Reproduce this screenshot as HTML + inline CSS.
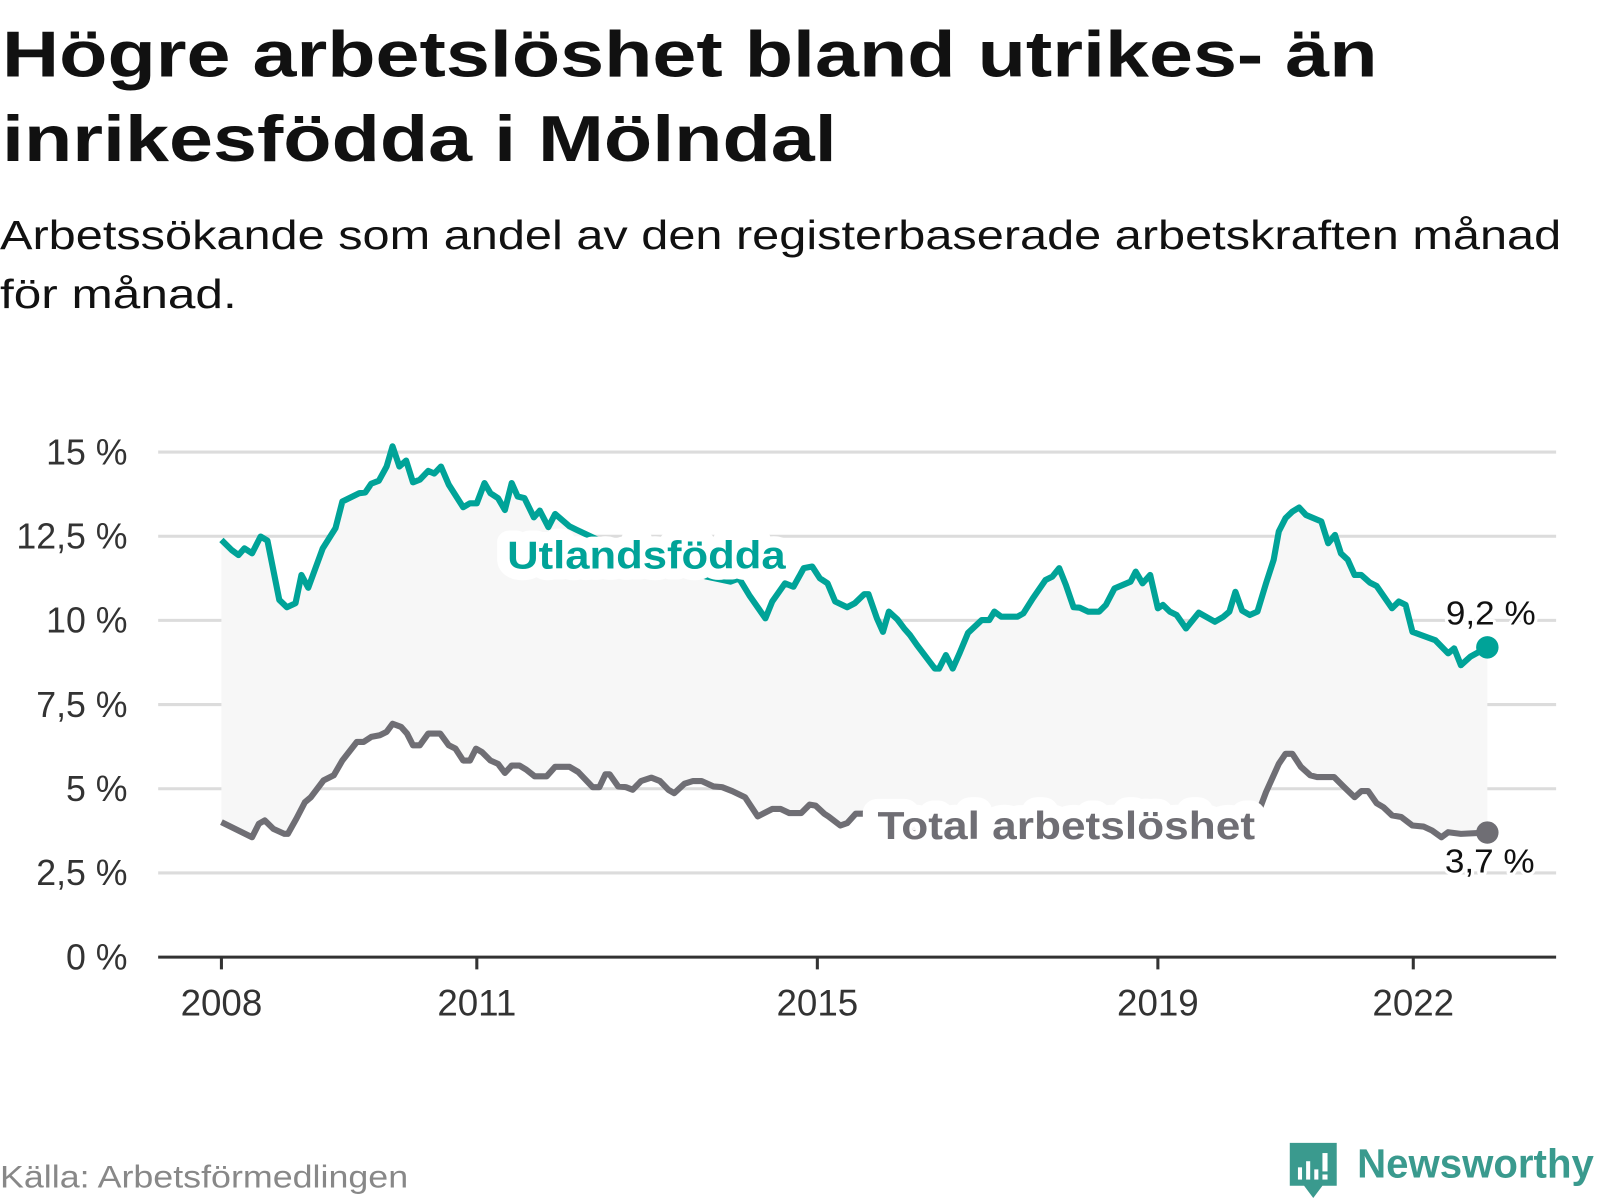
<!DOCTYPE html>
<html><head><meta charset="utf-8">
<style>
html,body{margin:0;padding:0;background:#fff;}
svg{display:block;font-family:"Liberation Sans",sans-serif;}
</style></head>
<body>
<svg id="chart" width="1600" height="1200" viewBox="0 0 1600 1200">
<g transform="scale(1.0204)">
  <text x="2" y="75" font-size="64" font-weight="bold" fill="#111" textLength="1348" lengthAdjust="spacingAndGlyphs">Högre arbetslöshet bland utrikes- än</text>
  <text x="2" y="158" font-size="64" font-weight="bold" fill="#111" textLength="818" lengthAdjust="spacingAndGlyphs">inrikesfödda i Mölndal</text>
  <text x="0" y="244" font-size="40" fill="#111" textLength="1530" lengthAdjust="spacingAndGlyphs">Arbetssökande som andel av den registerbaserade arbetskraften månad</text>
  <text x="0" y="302" font-size="40" fill="#111" textLength="232" lengthAdjust="spacingAndGlyphs">för månad.</text>
  <g id="grid"></g>
  <g id="yticks"></g>
  <g id="xticks"></g>
  <g id="plot"></g>
  <text x="0" y="1164" font-size="31" fill="#888" textLength="400" lengthAdjust="spacingAndGlyphs">Källa: Arbetsförmedlingen</text>
  <g>
    <path d="M1264 1120 h46 v42 h-14 l-9 12 l-9 -12 h-14 z" fill="#3a9a8e"/>
    <rect x="1272" y="1144" width="4" height="12" fill="#fff"/>
    <rect x="1280" y="1138" width="4" height="18" fill="#fff"/>
    <rect x="1288" y="1146" width="4" height="10" fill="#fff"/>
    <rect x="1296" y="1130" width="5" height="18" fill="#fff"/>
    <rect x="1296" y="1151" width="5" height="5" fill="#fff"/>
    <text x="1330" y="1154" font-size="40" font-weight="bold" fill="#3a9a8e" textLength="232" lengthAdjust="spacingAndGlyphs">Newsworthy</text>
  </g>
</g>
</svg>
<script>
const yTicks = [0, 2.5, 5, 7.5, 10, 12.5, 15];
const yTickLabels = ["0 %", "2,5 %", "5 %", "7,5 %", "10 %", "12,5 %", "15 %"];
const xTicks = [2008, 2011, 2015, 2019, 2022];
const xTickLabels = ["2008", "2011", "2015", "2019", "2022"];
const utlYears = [2008.00,2008.12,2008.20,2008.27,2008.36,2008.46,2008.54,2008.68,2008.77,2008.87,2008.94,2009.02,2009.19,2009.34,2009.42,2009.62,2009.69,2009.76,2009.85,2009.94,2010.01,2010.09,2010.17,2010.25,2010.33,2010.43,2010.50,2010.58,2010.67,2010.84,2010.92,2011.00,2011.09,2011.16,2011.25,2011.33,2011.41,2011.48,2011.56,2011.67,2011.74,2011.84,2011.92,2012.09,2012.17,2012.5,2012.9,2013.3,2013.7,2013.98,2014.08,2014.20,2014.39,2014.47,2014.62,2014.72,2014.84,2014.94,2015.03,2015.12,2015.21,2015.35,2015.44,2015.55,2015.60,2015.70,2015.77,2015.84,2015.94,2016.02,2016.09,2016.17,2016.38,2016.43,2016.51,2016.59,2016.67,2016.77,2016.93,2017.02,2017.08,2017.16,2017.35,2017.42,2017.53,2017.68,2017.76,2017.84,2017.92,2018.01,2018.08,2018.18,2018.31,2018.39,2018.49,2018.68,2018.74,2018.82,2018.91,2019.00,2019.06,2019.14,2019.22,2019.33,2019.48,2019.67,2019.77,2019.84,2019.91,2019.99,2020.08,2020.17,2020.27,2020.36,2020.42,2020.50,2020.58,2020.66,2020.74,2020.92,2021.00,2021.08,2021.15,2021.23,2021.31,2021.39,2021.49,2021.57,2021.75,2021.83,2021.91,2021.99,2022.26,2022.41,2022.48,2022.56,2022.67,2022.87];
const utlValues = [12.39,12.09,11.94,12.14,11.99,12.49,12.37,10.61,10.39,10.51,11.35,10.97,12.14,12.74,13.53,13.78,13.80,14.06,14.15,14.57,15.17,14.57,14.75,14.10,14.18,14.44,14.36,14.57,14.03,13.36,13.48,13.48,14.08,13.78,13.63,13.28,14.08,13.68,13.63,13.06,13.26,12.77,13.16,12.79,12.69,12.3,11.9,11.6,11.3,11.15,11.25,10.75,10.06,10.56,11.10,11.00,11.55,11.60,11.25,11.10,10.56,10.39,10.51,10.78,10.78,10.06,9.66,10.26,10.03,9.76,9.56,9.27,8.57,8.57,8.97,8.57,9.02,9.63,10.01,10.01,10.26,10.11,10.11,10.21,10.65,11.20,11.30,11.55,11.05,10.39,10.38,10.26,10.26,10.46,10.95,11.15,11.45,11.10,11.35,10.36,10.46,10.26,10.16,9.76,10.23,9.96,10.11,10.26,10.85,10.29,10.16,10.26,11.10,11.80,12.64,13.04,13.23,13.35,13.13,12.94,12.29,12.54,11.99,11.80,11.35,11.35,11.12,11.02,10.36,10.56,10.46,9.66,9.41,9.02,9.17,8.67,8.92,9.2];
const totYears = [2008.00,2008.36,2008.44,2008.51,2008.61,2008.74,2008.78,2008.88,2008.98,2009.05,2009.20,2009.32,2009.42,2009.59,2009.67,2009.76,2009.86,2009.94,2010.01,2010.11,2010.18,2010.25,2010.33,2010.43,2010.57,2010.67,2010.75,2010.84,2010.92,2010.99,2011.06,2011.16,2011.25,2011.33,2011.41,2011.50,2011.58,2011.68,2011.82,2011.92,2012.09,2012.19,2012.36,2012.44,2012.51,2012.56,2012.66,2012.75,2012.83,2012.93,2013.05,2013.15,2013.25,2013.32,2013.44,2013.54,2013.64,2013.78,2013.88,2014.00,2014.15,2014.30,2014.47,2014.57,2014.67,2014.81,2014.91,2014.98,2015.08,2015.13,2015.27,2015.35,2015.45,2015.57,2015.68,2015.8,2016.1,2016.5,2017.0,2017.5,2018.0,2018.5,2019.0,2019.5,2020.0,2020.19,2020.27,2020.42,2020.50,2020.58,2020.68,2020.79,2020.87,2021.07,2021.18,2021.31,2021.39,2021.47,2021.57,2021.65,2021.75,2021.86,2021.99,2022.12,2022.22,2022.33,2022.41,2022.56,2022.87];
const totValues = [4.01,3.56,3.96,4.06,3.81,3.66,3.66,4.11,4.60,4.75,5.25,5.40,5.84,6.39,6.39,6.54,6.59,6.69,6.93,6.84,6.64,6.29,6.29,6.64,6.64,6.29,6.19,5.84,5.84,6.19,6.09,5.84,5.74,5.47,5.69,5.69,5.57,5.37,5.37,5.65,5.65,5.50,5.05,5.05,5.43,5.43,5.07,5.05,4.97,5.23,5.33,5.23,4.97,4.87,5.15,5.23,5.23,5.07,5.05,4.93,4.75,4.18,4.40,4.40,4.28,4.28,4.53,4.50,4.26,4.18,3.91,3.98,4.26,4.26,4.15,3.95,3.7,3.4,3.4,3.35,3.35,3.35,3.4,3.4,3.45,4.36,4.90,5.74,6.04,6.04,5.65,5.40,5.35,5.35,5.07,4.75,4.93,4.93,4.57,4.45,4.21,4.16,3.91,3.88,3.76,3.56,3.71,3.66,3.7];
const endLabels = ["9,2 %", "3,7 %"];

const NS = "http://www.w3.org/2000/svg";
const X = yr => 217 + (yr - 2008) * 83.43;
const Y = v => 938 - v * 33;
function mk(tag, attrs, parent) {
  const e = document.createElementNS(NS, tag);
  for (const k in attrs) e.setAttribute(k, attrs[k]);
  parent.appendChild(e);
  return e;
}
const grid = document.getElementById('grid');
const yg = document.getElementById('yticks');
const xg = document.getElementById('xticks');
const plot = document.getElementById('plot');

yTicks.forEach((v, i) => {
  if (v > 0) {
    const l = mk('line', {x1: 155, x2: 1525, y1: Y(v), y2: Y(v), stroke: '#dcdcdc', 'stroke-width': 3}, grid);
    
    
  }
  const t = mk('text', {x: 125, y: Y(v) + 12, 'font-size': 35, fill: '#333', 'text-anchor': 'end'}, yg);
  t.textContent = yTickLabels[i];
  
  
});
const ax = mk('line', {x1: 155, x2: 1525, y1: 938, y2: 938, stroke: '#333', 'stroke-width': 3}, xg);


xTicks.forEach((yr, i) => {
  const tk = mk('line', {x1: X(yr), x2: X(yr), y1: 938, y2: 950, stroke: '#333', 'stroke-width': 3}, xg);
  
  
  const t = mk('text', {x: X(yr), y: 995, 'font-size': 36, fill: '#333', 'text-anchor': 'middle'}, xg);
  t.textContent = xTickLabels[i];
  
  
});

function linePts(ys, vs) { return ys.map((y, i) => X(y).toFixed(1) + ',' + Y(vs[i]).toFixed(1)); }
const up = linePts(utlYears, utlValues);
const tp = linePts(totYears, totValues).reverse();
const band = mk('path', {d: 'M' + up.join('L') + 'L' + tp.join('L') + 'Z', fill: '#f7f7f7'}, plot);



const tl = mk('path', {d: 'M' + linePts(totYears, totValues).join('L'), fill: 'none', stroke: '#6f6e74', 'stroke-width': 6, 'stroke-linejoin': 'round'}, plot);


const ul = mk('path', {d: 'M' + up.join('L'), fill: 'none', stroke: '#00a398', 'stroke-width': 6, 'stroke-linejoin': 'round'}, plot);



const lu = utlYears.length - 1, lt = totYears.length - 1;
const d1 = mk('circle', {cx: X(utlYears[lu]), cy: Y(utlValues[lu]), r: 11, fill: '#00a398'}, plot);


const d2 = mk('circle', {cx: X(totYears[lt]), cy: Y(totValues[lt]), r: 11, fill: '#6f6e74'}, plot);



function label(txt, x, y, size, weight, color, name, halo, len) {
  const t = mk('text', {x: x, y: y, 'font-size': size, 'font-weight': weight, fill: color,
    stroke: '#fff', 'stroke-width': halo, 'paint-order': 'stroke', 'stroke-linejoin': 'round',
    textLength: len, lengthAdjust: 'spacingAndGlyphs'}, plot);
  t.textContent = txt;
  
  
  return t;
}
label('Utlandsfödda', 497, 557, 38, 'bold', '#00a398', 'utlandsfodda-label', 22, 273);
label('Total arbetslöshet', 860, 822, 38, 'bold', '#6f6e74', 'total-label', 26, 370);
label(endLabels[0], 1417, 612, 33, 'normal', '#111', 'utlandsfodda-end-value', 6, 88);
label(endLabels[1], 1416, 855, 33, 'normal', '#111', 'total-end-value', 6, 88);
</script>
</body></html>
